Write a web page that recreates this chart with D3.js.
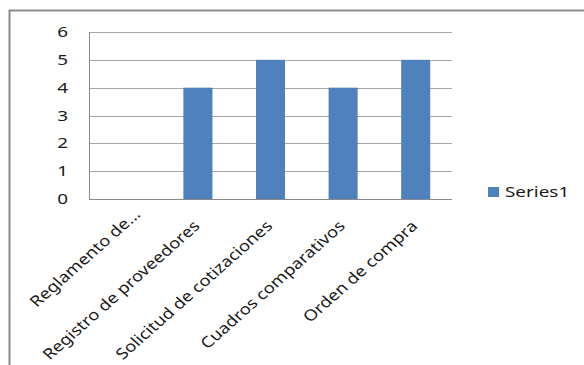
<!DOCTYPE html>
<html>
<head>
<meta charset="utf-8">
<script src="https://cdn.jsdelivr.net/npm/d3@7"></script>
<style>
  body { margin: 0; background: #fff; }
  text { font-family: "Noto Sans", "Open Sans", sans-serif; fill: #1a1a1a; }
</style>
</head>
<body>
<div id="chart"></div>
<script>
const categories = ["Reglamento de...", "Registro de proveedores", "Solicitud de cotizaciones", "Cuadros comparativos", "Orden de compra"];
const series1 = [0, 4, 5, 4, 5];
const yTicks = [0, 1, 2, 3, 4, 5, 6];
const seriesName = "Series1";

const width = 584, height = 365;
const margin = { top: 32, right: 132, bottom: 166, left: 89 };
const stretch = 1.35; // source picture is widened, text looks wide

const svg = d3.select("#chart").append("svg")
    .attr("width", width)
    .attr("height", height);

// outer chart frame (cut off at right and bottom)
svg.append("path")
    .attr("d", `M9.5,${height} V10.5 H${width}`)
    .attr("fill", "none")
    .attr("stroke", "#8c8c8c")
    .attr("stroke-width", 2);

let x = d3.scaleBand()
    .domain(categories)
    .range([margin.left, width - margin.right]);

let y = d3.scaleLinear()
    .domain([0, 6])
    .range([height - margin.bottom, margin.top]);

// gridlines
svg.selectAll(".grid")
    .data(yTicks)
    .join("line")
    .attr("class", "grid")
    .attr("x1", margin.left)
    .attr("x2", width - margin.right)
    .attr("y1", d => Math.round(y(d)) + 0.5)
    .attr("y2", d => Math.round(y(d)) + 0.5)
    .attr("stroke", d => d == 0 ? "#8a8a8a" : "#a6a6a6")
    .attr("stroke-width", 1);

// y axis line
svg.append("line")
    .attr("x1", margin.left + 0.5)
    .attr("x2", margin.left + 0.5)
    .attr("y1", y(6))
    .attr("y2", y(0))
    .attr("stroke", "#8a8a8a");

// bars
let barW = x.bandwidth() * 0.4;
svg.selectAll(".bar")
    .data(series1)
    .join("rect")
    .attr("class", "bar")
    .attr("x", (d, i) => x(categories[i]) + (x.bandwidth() - barW) / 2)
    .attr("y", d => y(d))
    .attr("width", barW)
    .attr("height", d => y(0) - y(d))
    .attr("fill", "#4f81bd");

// y tick labels
svg.selectAll(".ylab")
    .data(yTicks)
    .join("text")
    .attr("class", "ylab")
    .attr("transform", d => `translate(68,${y(d) + 5}) scale(${stretch},1)`)
    .attr("text-anchor", "end")
    .style("font-size", "14px")
    .text(d => d);

// x tick labels, rotated; the cut label sits a bit further along
svg.selectAll(".xlab")
    .data(categories)
    .join("text")
    .attr("class", "xlab")
    .attr("transform", d => `translate(${x(d) + x.bandwidth() / 2 + 3},${y(0) + 28}) scale(1.13,1) rotate(-45) scale(1.1,1)`)
    .attr("text-anchor", "end")
    .attr("dx", d => d.endsWith("...") ? 15 : 0)
    .style("font-size", "15px")
    .text(d => d);

// legend
let legend = svg.append("g").attr("transform", "translate(488,187)");
legend.append("rect")
    .attr("width", 11)
    .attr("height", 10)
    .attr("fill", "#4f81bd");
legend.append("text")
    .attr("transform", `translate(17,10) scale(${stretch},1)`)
    .style("font-size", "14px")
    .text(seriesName);
</script>
</body>
</html>
